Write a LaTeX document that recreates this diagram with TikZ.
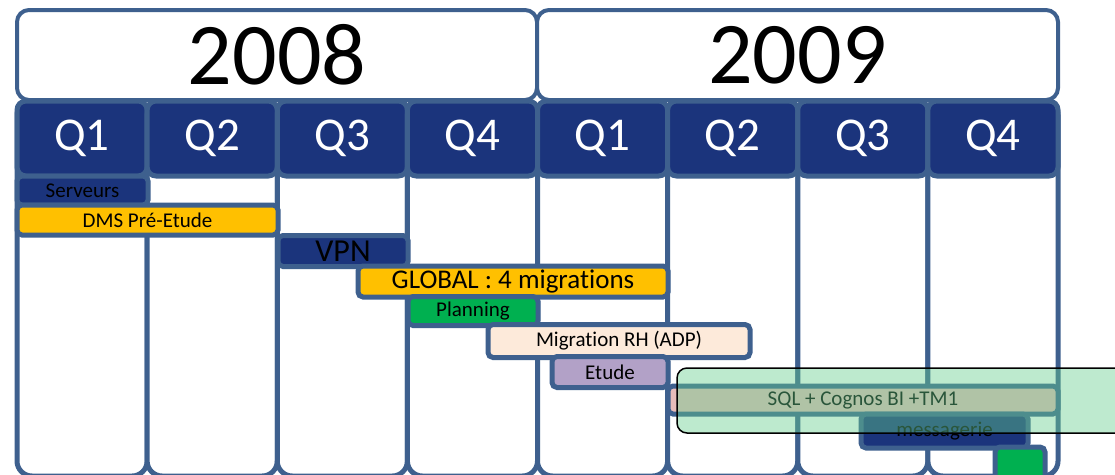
\documentclass[tikz,border=0pt]{standalone}
\usepackage{fontspec}
\setmainfont{Carlito}[RawFeature=-liga]
\usetikzlibrary{positioning}
\definecolor{steel}{RGB}{62,96,142}
\definecolor{navy}{RGB}{27,52,124}
\definecolor{gold}{RGB}{255,192,0}
\definecolor{leaf}{RGB}{0,176,80}
\definecolor{peach}{RGB}{253,234,218}
\definecolor{lilac}{RGB}{178,161,199}
\definecolor{rose}{RGB}{232,188,186}
\definecolor{mint}{RGB}{100,205,140}
\tikzset{
    every node/.style={font=\fontsize{21}{24}\selectfont, inner sep=0pt, outer sep=0pt},
    yearbox/.style={draw=steel, line width=4pt, fill=white, rounded corners=12pt,
        font=\fontsize{88}{90}\selectfont},
    colbox/.style={draw=steel, line width=5pt, fill=white, rounded corners=15pt},
    qhead/.style={draw=steel, line width=5pt, fill=navy, rounded corners=9pt,
        text=white, font=\fontsize{47}{49}\selectfont},
    bar/.style={draw=steel, line width=5pt, fill=#1, rounded corners=5pt},
}

\begin{document}
\begin{tikzpicture}[x=1pt, y=-1pt]
    \def\cw{130.125}
    \useasboundingbox (0,0) rectangle (1115,474);

    % quarter columns
    \foreach \q [count=\i] in {Q1,Q2,Q3,Q4,Q1,Q2,Q3,Q4}{
        \pgfmathsetmacro\xa{17+\cw*(\i-1)}
        \draw [colbox] (\xa,100) rectangle ++(\cw,376);
        \node [qhead, minimum width=\cw pt, minimum height=75pt] (q\i) at (\xa+\cw/2,138.5) {\q};
    }

    % years
    \node [yearbox, minimum width=520pt, minimum height=90pt] (y2008) at (277,55) {2008};
    \node [yearbox, minimum width=521pt, minimum height=90pt] (y2009) at (797.5,55) {2009};

    % tasks
    \node [bar=navy, minimum width=131pt, minimum height=29pt] (serv) at (82.5,190.5) {Serveurs};
    \node [bar=gold, minimum width=261pt, minimum height=30pt] (dms) at (147.5,220) {DMS Pré-Etude};
    \node [bar=navy, minimum width=130pt, minimum height=31pt, font=\fontsize{32}{34}\selectfont] (vpn) at (343,251) {VPN};
    \node [bar=gold, minimum width=310pt, minimum height=31pt, font=\fontsize{27}{29}\selectfont] (global) at (513,281.5) {GLOBAL : 4 migrations};
    \node [bar=leaf, minimum width=130pt, minimum height=29pt] (plan) at (473,311) {Planning};
    \node [bar=peach, minimum width=262pt, minimum height=33pt] (migrh) at (619,341) {Migration RH (ADP)};
    \node [bar=lilac, minimum width=116pt, minimum height=31pt] (etude) at (610,372) {Etude};
    \node [bar=rose, minimum width=390pt, minimum height=28pt] (sql) at (863,400) {SQL + Cognos BI +TM1};
    \node [bar=navy, minimum width=167pt, minimum height=34pt] (mess) at (944.5,431) {messagerie};
    \node [bar=leaf, minimum width=50pt, minimum height=38pt] (last) at (1020,466) {};

    % highlight
    \draw [black, line width=1.5pt, rounded corners=10pt, fill=mint, fill opacity=.42] (677,368) rectangle (1135,433);
\end{tikzpicture}
\end{document}
